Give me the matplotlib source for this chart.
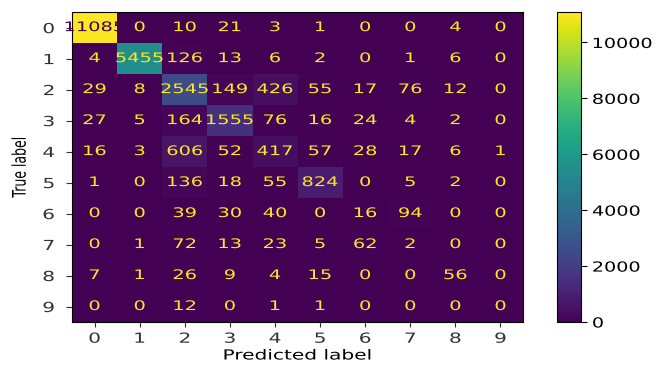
import numpy as np
import matplotlib
matplotlib.use("Agg")
import matplotlib.pyplot as plt
from matplotlib.patheffects import AbstractPathEffect
from matplotlib.transforms import Affine2D

labels = [str(i) for i in range(10)]

# confusion matrix, rows = true label, cols = predicted label
row0 = [11085, 0, 10, 21, 3, 1, 0, 0, 4, 0]
row1 = [4, 5455, 126, 13, 6, 2, 0, 1, 6, 0]
row2 = [29, 8, 2545, 149, 426, 55, 17, 76, 12, 0]
row3 = [27, 5, 164, 1555, 76, 16, 24, 4, 2, 0]
row4 = [16, 3, 606, 52, 417, 57, 28, 17, 6, 1]
row5 = [1, 0, 136, 18, 55, 824, 0, 5, 2, 0]
row6 = [0, 0, 39, 30, 40, 0, 16, 94, 0, 0]
row7 = [0, 1, 72, 13, 23, 5, 62, 2, 0, 0]
row8 = [7, 1, 26, 9, 4, 15, 0, 0, 56, 0]
row9 = [0, 0, 12, 0, 1, 1, 0, 0, 0, 0]

cm = np.array([row0, row1, row2, row3, row4, row5, row6, row7, row8, row9])


class Stretch(AbstractPathEffect):
    """widen the glyphs horizontally (the reference image was stretched)"""
    def __init__(self, sx, anchor="center"):
        super().__init__()
        self.sx = sx
        self.anchor = anchor

    def draw_path(self, renderer, gc, tpath, affine, rgbFace=None):
        ext = tpath.get_extents(affine)
        if self.anchor == "left":
            x0 = ext.x0
        elif self.anchor == "right":
            x0 = ext.x1
        else:
            x0 = (ext.x0 + ext.x1) / 2
        aff = affine + Affine2D().translate(-x0, 0).scale(self.sx, 1).translate(x0, 0)
        renderer.draw_path(gc, tpath, aff, rgbFace)


plt.rcParams["font.family"] = ["DejaVu Sans"]
plt.rcParams["font.size"] = 10

fig = plt.figure(figsize=(6.57, 3.65), dpi=100)
ax = fig.add_axes([0.1096, 0.1178, 0.6865, 0.849])
cax = fig.add_axes([0.848, 0.1178, 0.0365, 0.849])

cmap = plt.get_cmap("viridis")
im = ax.imshow(cm, cmap=cmap, aspect="auto", interpolation="nearest")

thresh = (cm.max() + cm.min()) / 2.0
n = cm.shape[0]
for i in range(n):
    for j in range(n):
        color = cmap(0.0) if cm[i, j] > thresh else cmap(1.0)
        ax.text(j, i, str(cm[i, j]), ha="center", va="center",
                color=color, fontsize=9.5, clip_on=False,
                path_effects=[Stretch(1.47)])

ax.set_xticks(range(n))
ax.set_yticks(range(n))
ax.set_xticklabels(labels, fontsize=10)
ax.set_yticklabels(labels, fontsize=10)
for t in ax.get_xticklabels():
    t.set_path_effects([Stretch(1.45)])
for t in ax.get_yticklabels():
    t.set_path_effects([Stretch(1.45, "right")])
ax.tick_params(colors="#333333", labelcolor="#333333")
ax.tick_params(axis="y", length=4.5, pad=8)

xl = ax.set_xlabel("Predicted label", fontsize=10, labelpad=2)
xl.set_path_effects([Stretch(1.45)])
yl = ax.set_ylabel("True label", fontsize=9, labelpad=14)
yl.set_path_effects([Stretch(1.5)])

cb = fig.colorbar(im, cax=cax)
cb.ax.tick_params(labelsize=10, length=4.5)
for t in cb.ax.get_yticklabels():
    t.set_path_effects([Stretch(1.38, "left")])

fig.savefig("out.png", dpi=100)
